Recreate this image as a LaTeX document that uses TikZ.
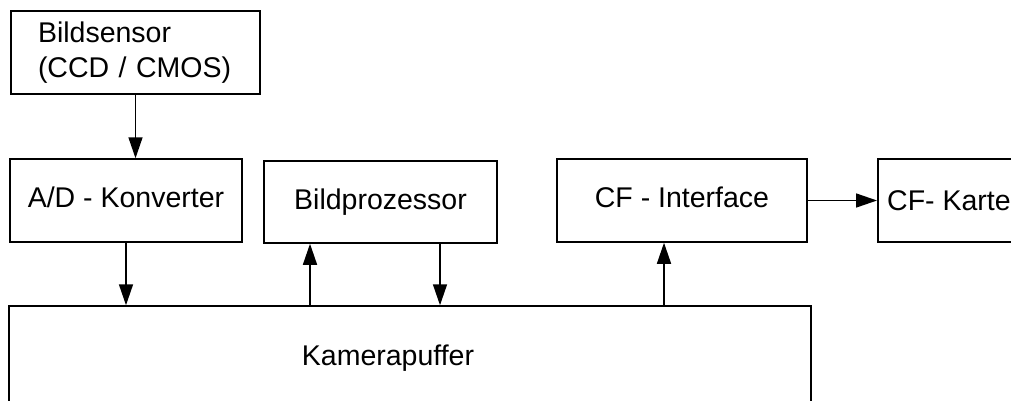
\documentclass[tikz,border=0pt]{standalone}
\usepackage{fontspec}
\setmainfont{Liberation Sans}
\usetikzlibrary{arrows.meta,calc}
\begin{document}
\begin{tikzpicture}[x=1pt,y=1pt,
  box/.style={draw,line width=1.5pt,rectangle,inner sep=0pt,font=\fontsize{28.5}{35}\selectfont},
  onel/.style={text height=20pt,text depth=6pt},
  arr/.style={line width=1.5pt,-{Triangle[length=21pt,width=14pt]}},
  lbl/.style={inner sep=0pt,font=\fontsize{28.5}{35}\selectfont}]
\useasboundingbox (0,0) rectangle (1011,400);
\clip (0,0) rectangle (1011,400);
\node[box,minimum width=249,minimum height=83,inner xsep=27pt,text width=195pt,align=left] (bs) at (135.5,347.5) {Bildsensor\\(CCD / CMOS)};
\node[box,onel,minimum width=232,minimum height=83] (ad) at (126,199.5) {A/D - Konverter};
\node[box,onel,minimum width=233,minimum height=82] (bp) at (380.5,198) {Bildprozessor};
\node[box,onel,minimum width=250,minimum height=83] (cf) at (682,199.5) {CF - Interface};
\node[box,minimum width=170,minimum height=83,anchor=west] (ck) at (877,199.5) {};
\node[lbl,anchor=base west] (ckt) at (887,190) {CF- Karte};
\node[box,minimum width=802,minimum height=124] (kp) at (410,32) {};
\node[lbl] (kpt) at (388,42) {Kamerapuffer};
\draw[arr] (bs.south) -- (bs.south |- ad.north);
\draw[arr] (ad.south) -- (ad.south |- kp.north);
\draw[arr] ([xshift=-70.5pt]bp.south |- kp.north) -- ([xshift=-70.5pt]bp.south);
\draw[arr] ([xshift=59.5pt]bp.south) -- ([xshift=59.5pt]bp.south |- kp.north);
\draw[arr] ([xshift=-18pt]cf.south |- kp.north) -- ([xshift=-18pt]cf.south);
\draw[arr] (cf.east) -- (ck.west);
\end{tikzpicture}
\end{document}
